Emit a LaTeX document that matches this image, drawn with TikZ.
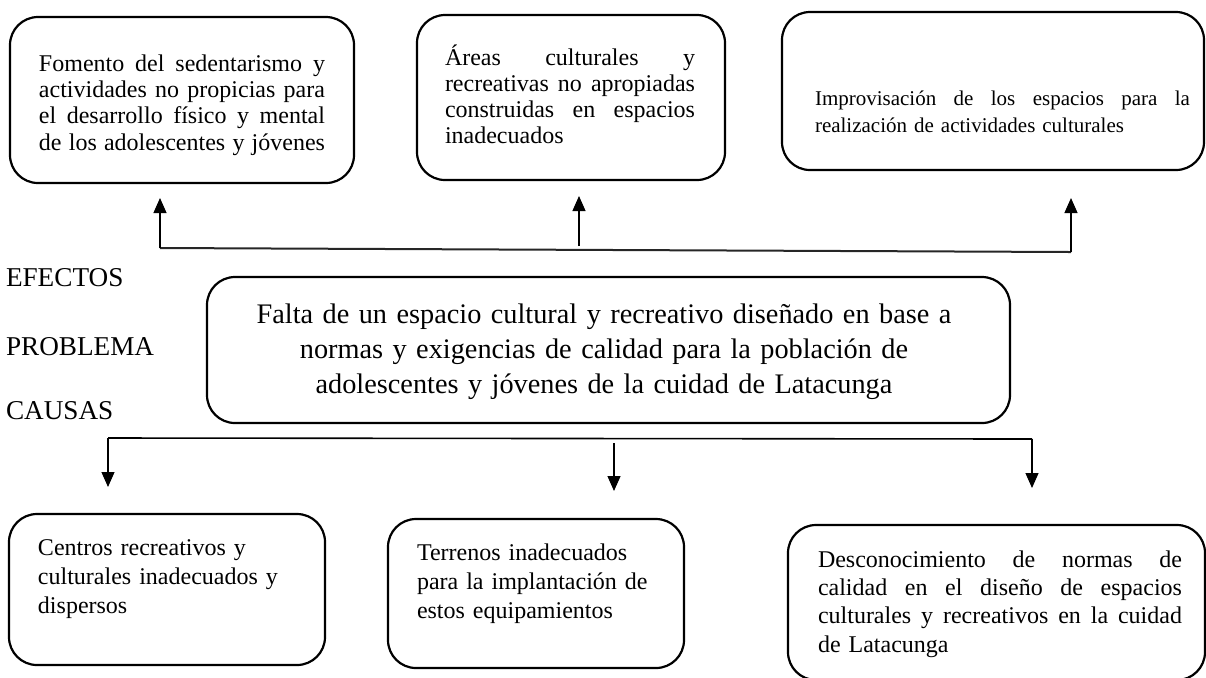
\documentclass[tikz,border=0pt]{standalone}
\usepackage{fontspec}
\setmainfont{Liberation Serif}
\usetikzlibrary{arrows.meta}
\newcommand{\jline}[2]{\leavevmode{\spaceskip=0pt\xspaceskip=0pt\relax\hbox to #1{#2}}}
\begin{document}
\begin{tikzpicture}[x=0.5pt,y=-0.5pt,
  box/.style={draw=black,line width=1.1pt,rounded corners=14pt,anchor=north west,inner sep=0pt,outer sep=0pt},
  txt/.style={inner sep=0pt,outer sep=0pt,anchor=base west},
  lbl/.style={inner sep=0pt,outer sep=0pt,anchor=base west,font=\fontsize{13.6pt}{15pt}\selectfont},
  conn/.style={draw=black,line width=0.6pt},
  arr/.style={draw=black,line width=0.6pt,-{Triangle[length=7.5pt,width=6.5pt]}}]
\useasboundingbox (0,0) rectangle (1206,677);

% effect boxes
\node[box,minimum width=172pt,minimum height=83pt] (e1) at (10,17) {};
\node[box,minimum width=154pt,minimum height=82.5pt] (e2) at (417,15) {};
\node[box,minimum width=211pt,minimum height=79pt] (e3) at (782,12) {};
% problem box
\node[box,minimum width=401.5pt,minimum height=73pt] (pb) at (207,277) {};
% cause boxes
\node[box,minimum width=158pt,minimum height=75.5pt] (c1) at (9,514) {};
\node[box,minimum width=148pt,minimum height=74.5pt] (c2) at (388,519) {};
\node[box,minimum width=208.5pt,minimum height=77.5pt] (c3) at (788,525) {};

% texts
\node[txt,text width=143pt,font=\fontsize{12pt}{13.2pt}\selectfont] (e1t) at (39,71)
 {\jline{143pt}{Fomento del sedentarismo y}\\\jline{143pt}{actividades no propicias para}\\\jline{143pt}{el desarrollo físico y mental}\\\jline{143pt}{de los adolescentes y jóvenes}};
\node[txt,text width=125pt,font=\fontsize{12pt}{13pt}\selectfont] (e2t) at (445,65)
 {\jline{125pt}{Áreas culturales y}\\\jline{125pt}{recreativas no apropiadas}\\\jline{125pt}{construidas en espacios}\\inadecuados};
\node[txt,text width=187.5pt,font=\fontsize{10.5pt}{13.5pt}\selectfont] (e3t) at (815,105)
 {\jline{187.5pt}{Improvisación de los espacios para la}\\realización de actividades culturales};
\node[txt,text width=400pt,anchor=base,font=\fontsize{14.15pt}{17.5pt}\selectfont] (pbt) at (604,323)
 {\centering Falta de un espacio cultural y recreativo diseñado en base a\\normas y exigencias de calidad para la población de\\adolescentes y jóvenes de la cuidad de Latacunga\par};
\node[txt,text width=140pt,font=\fontsize{12pt}{14.6pt}\selectfont] (c1t) at (38,555)
 {Centros recreativos y\\culturales inadecuados y\\dispersos};
\node[txt,text width=135pt,font=\fontsize{12pt}{14.6pt}\selectfont] (c2t) at (417,560)
 {Terrenos inadecuados\\para la implantación de\\estos equipamientos};
\node[txt,text width=182pt,font=\fontsize{12pt}{14.2pt}\selectfont] (c3t) at (818,567)
 {\jline{182pt}{Desconocimiento de normas de}\\\jline{182pt}{calidad en el diseño de espacios}\\\jline{182pt}{culturales y recreativos en la cuidad}\\de Latacunga};

% side labels
\node[lbl] (lef) at (6,286) {EFECTOS};
\node[lbl] (lpr) at (6,355) {PROBLEMA};
\node[lbl] (lca) at (6,419) {CAUSAS};

% top connectors (effects)
\coordinate (h1) at (160,248);
\coordinate (h2) at (579,246);
\coordinate (h3) at (1071,252);
\coordinate (t1) at (160,198);
\coordinate (t2) at (579,196);
\coordinate (t3) at (1071,198);
\draw[conn,line width=1pt,draw=black!85] (h1) -- (h3);
\draw[arr] (h1) -- (t1);
\draw[arr] (h2) -- (t2);
\draw[arr] (h3) -- (t3);

% bottom connectors (causes)
\coordinate (b1) at (108,438);
\coordinate (b2) at (614,443);
\coordinate (b3) at (1032,439);
\coordinate (d1) at (108,487);
\coordinate (d2) at (614,491);
\coordinate (d3) at (1032,488);
\draw[conn,line width=0.8pt] (b1) -- (b3);
\draw[arr] (b1) -- (d1);
\draw[arr] (b2) -- (d2);
\draw[arr] (b3) -- (d3);
\end{tikzpicture}
\end{document}
